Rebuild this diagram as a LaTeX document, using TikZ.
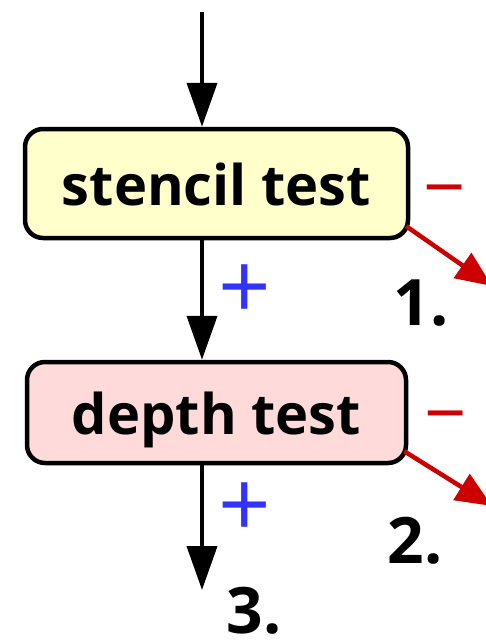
\documentclass[tikz,border=0pt]{standalone}
\usepackage{fontspec}
\setmainfont{Open Sans}
\usetikzlibrary{arrows.meta}
\definecolor{stencilfill}{HTML}{FFFFCC}
\definecolor{depthfill}{HTML}{FFDADA}
\definecolor{failred}{HTML}{CC0000}
\definecolor{passblue}{HTML}{3333FF}
\begin{document}
\begin{tikzpicture}[x=1pt,y=-1pt,
  testbox/.style={draw=black, line width=4.5pt, rounded corners=18pt, inner sep=0pt,
    text height=43pt, text depth=0pt, font=\bfseries\fontsize{56}{60}\selectfont},
  flow/.style={line width=4pt, -{Triangle[length=44pt,width=30pt]}},
  fail/.style={draw=failred, line width=4.5pt, -{Triangle[length=36pt,width=30pt]}},
  plussign/.style={font=\fontsize{92}{96}\selectfont, text=passblue},
  minussign/.style={font=\fontsize{74}{80}\selectfont, text=failred},
  numlabel/.style={font=\bfseries\fontsize{64}{70}\selectfont, anchor=base}]
\useasboundingbox (0,0) rectangle (486,640);
\node[testbox, fill=stencilfill, minimum width=383pt, minimum height=109pt] (stencil) at (216.5,183.5) {stencil test};
\node[testbox, fill=depthfill, minimum width=379pt, minimum height=101pt] (depth) at (216.5,412.5) {depth test};
\coordinate (in) at (202,12);
\coordinate (out) at (202,590);
\coordinate (fail1) at (492,286);
\coordinate (fail2) at (492,506);
\draw[flow] (in) -- (stencil.north -| in);
\draw[flow] (stencil.south -| in) -- (depth.north -| in);
\draw[flow] (depth.south -| in) -- (out);
\draw[fail] (stencil.south east) ++(-4,-14) coordinate (s1) -- (fail1);
\draw[fail] (depth.south east) ++(-4,-14) coordinate (s2) -- (fail2);
\node[minussign] (m1) at (445,199) {\textminus};
\node[plussign] (p1) at (245,292) {+};
\node[numlabel] (n1) at (421,325) {1.};
\node[minussign] (m2) at (446,425) {\textminus};
\node[plussign] (p2) at (245,510) {+};
\node[numlabel] (n2) at (415,563) {2.};
\node[numlabel] (n3) at (254,633) {3.};
\end{tikzpicture}
\end{document}
